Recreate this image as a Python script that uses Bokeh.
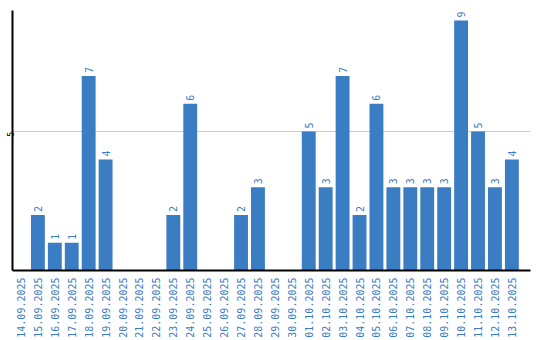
from bokeh.plotting import figure
from bokeh.models import Range1d, FixedTicker, ColumnDataSource, LinearAxis
from bokeh.core.properties import value
from bokeh.embed import file_html
from bokeh.resources import INLINE
import math

dates = ["14.09.2025", "15.09.2025", "16.09.2025", "17.09.2025", "18.09.2025",
         "19.09.2025", "20.09.2025", "21.09.2025", "22.09.2025", "23.09.2025",
         "24.09.2025", "25.09.2025", "26.09.2025", "27.09.2025", "28.09.2025",
         "29.09.2025", "30.09.2025", "01.10.2025", "02.10.2025", "03.10.2025",
         "04.10.2025", "05.10.2025", "06.10.2025", "07.10.2025", "08.10.2025",
         "09.10.2025", "10.10.2025", "11.10.2025", "12.10.2025", "13.10.2025"]
counts = [0, 2, 1, 1, 7, 4, 0, 0, 0, 2, 6, 0, 0, 2, 3, 0, 0, 5, 3, 7,
          2, 6, 3, 3, 3, 3, 9, 5, 3, 4]
y_ticks = [5]

BLUE = "#3b7dc3"

xs = list(range(len(dates)))
src = ColumnDataSource(dict(x=xs, y=counts))
lab_idx = [i for i, c in enumerate(counts) if c > 0]
lab_src = ColumnDataSource(dict(x=[xs[i] for i in lab_idx],
                                y=[counts[i] for i in lab_idx],
                                t=[str(counts[i]) for i in lab_idx]))

p = figure(width=540, height=340, x_range=Range1d(-0.5, 30.1), y_range=Range1d(0, 9.36),
           output_backend="svg", toolbar_location=None,
           x_axis_location=None, y_axis_location=None,
           min_border_left=0, min_border_right=10, min_border_top=10, min_border_bottom=0)
p.outline_line_color = None
p.background_fill_color = "white"
p.border_fill_color = "white"

yaxis = LinearAxis(ticker=FixedTicker(ticks=y_ticks))
yaxis.major_tick_line_color = None
yaxis.minor_tick_line_color = None
yaxis.major_tick_in = 0
yaxis.major_tick_out = 0
yaxis.minor_tick_in = 0
yaxis.minor_tick_out = 0
yaxis.axis_line_color = "black"
yaxis.axis_line_width = 2
yaxis.major_label_orientation = math.pi / 2
yaxis.major_label_text_font = "DejaVu Sans"
yaxis.major_label_text_font_size = "8px"
yaxis.major_label_text_color = "black"
yaxis.major_label_standoff = 2
p.add_layout(yaxis, "left")

xaxis = LinearAxis(ticker=FixedTicker(ticks=xs))
xaxis.major_label_overrides = {i: d for i, d in zip(xs, dates)}
xaxis.major_tick_line_color = None
xaxis.minor_tick_line_color = None
xaxis.major_tick_in = 0
xaxis.major_tick_out = 0
xaxis.minor_tick_in = 0
xaxis.minor_tick_out = 0
xaxis.axis_line_color = "black"
xaxis.axis_line_width = 2
xaxis.major_label_orientation = math.pi / 2
xaxis.major_label_text_font = "DejaVu Sans Mono"
xaxis.major_label_text_font_size = "10px"
xaxis.major_label_text_color = BLUE
xaxis.major_label_standoff = 7
p.add_layout(xaxis, "below")

p.xgrid.visible = False
p.ygrid.ticker = FixedTicker(ticks=y_ticks)
p.ygrid.grid_line_color = "#cccccc"
p.ygrid.grid_line_width = 1

p.vbar(x="x", top="y", bottom=0, width=0.82, source=src, fill_color=BLUE, line_color=None)

p.text(x="x", y="y", text="t", source=lab_src, angle=math.pi / 2, y_offset=-3,
       text_align="left", text_baseline="middle", text_color=BLUE,
       text_font=value("DejaVu Sans Mono"), text_font_size="10px")

open("out.html", "w").write(file_html(p, INLINE))
